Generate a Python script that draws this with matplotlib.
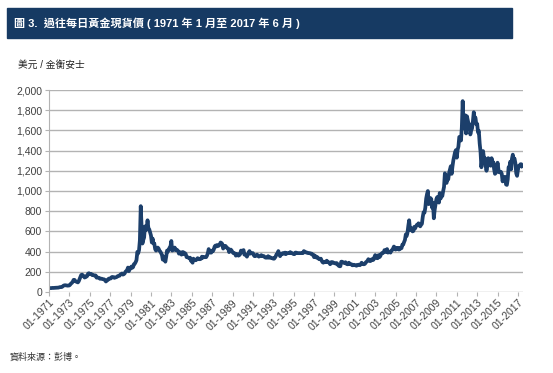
"""
Daily gold spot price, Jan 1971 - Jun 2017 (monthly readings off the chart)
"""
import numpy as np
import pandas as pd
import matplotlib
matplotlib.use("Agg")
import matplotlib.pyplot as plt
import matplotlib.dates as mdates
from matplotlib.patches import Rectangle
from matplotlib.ticker import FuncFormatter

plt.rcParams["font.family"] = ["Liberation Sans", "Noto Sans CJK TC", "DejaVu Sans"]

title_text = "圖 3.  過往每日黃金現貨價 ( 1971 年 1 月至 2017 年 6 月 )"
ylabel_text = "美元 / 金衡安士"
source_text = "資料來源：彭博。"

start_month = "1971-01"
price = [
    # 1971
    37.9, 38.7, 38.9, 39.0, 40.5, 40.1, 41.0, 42.7, 42.0, 42.5, 43.0, 43.5,
    # 1972
    45.8, 48.3, 48.3, 49.0, 54.6, 62.1, 65.7, 67.0, 65.5, 64.9, 62.9, 63.9,
    # 1973
    65.1, 74.2, 84.4, 90.5, 102.0, 120.1, 120.2, 106.8, 103.0, 100.1, 94.8, 106.7,
    # 1974
    129.2, 150.2, 168.4, 172.2, 163.3, 154.1, 143.0, 154.6, 151.8, 158.8, 181.7, 186.0,
    # 1975
    176, 180, 178, 167, 167, 164, 165, 163, 142, 142, 142, 140,
    # 1976
    131, 132, 132, 128, 126, 125, 117, 104, 114, 117, 130, 134,
    # 1977
    132, 136, 148, 149, 146, 140, 144, 146, 150, 158, 160, 161,
    # 1978
    173, 178, 183, 172, 176, 183, 200, 208, 218, 242, 206, 226,
    # 1979
    233, 252, 240, 246, 275, 280, 295, 315, 397, 383, 415, 512,
    # 1980
    850, 640, 480, 515, 540, 650, 615, 630, 710, 630, 620, 590,
    # 1981
    560, 490, 530, 480, 480, 425, 410, 425, 440, 430, 410, 400,
    # 1982
    385, 365, 320, 350, 330, 300, 350, 410, 400, 420, 440, 450,
    # 1983
    505, 410, 415, 435, 440, 415, 420, 415, 405, 380, 395, 385,
    # 1984
    370, 395, 395, 375, 385, 375, 345, 345, 340, 335, 340, 310,
    # 1985
    305, 290, 330, 320, 315, 315, 325, 335, 325, 325, 325, 330,
    # 1986
    350, 340, 345, 345, 345, 345, 360, 385, 425, 400, 390, 390,
    # 1987
    410, 405, 420, 450, 460, 450, 465, 455, 460, 470, 490, 485,
    # 1988
    475, 430, 455, 450, 455, 440, 435, 430, 395, 410, 420, 410,
    # 1989
    395, 385, 385, 380, 360, 375, 375, 360, 365, 375, 410, 400,
    # 1990
    410, 415, 370, 370, 365, 350, 370, 390, 405, 380, 385, 385,
    # 1991
    385, 365, 355, 355, 365, 370, 360, 350, 355, 360, 365, 355,
    # 1992
    355, 355, 345, 340, 340, 340, 355, 340, 345, 340, 335, 335,
    # 1993
    330, 330, 340, 355, 375, 375, 405, 375, 355, 370, 375, 385,
    # 1994
    380, 380, 390, 375, 385, 385, 385, 385, 395, 385, 385, 380,
    # 1995
    375, 375, 390, 390, 385, 385, 385, 385, 385, 385, 385, 385,
    # 1996
    405, 400, 395, 390, 390, 385, 385, 385, 380, 380, 370, 370,
    # 1997
    345, 360, 350, 340, 345, 335, 325, 325, 330, 310, 295, 290,
    # 1998
    300, 295, 300, 310, 295, 295, 290, 275, 295, 290, 295, 290,
    # 1999
    285, 285, 280, 285, 270, 260, 255, 255, 300, 300, 295, 290,
    # 2000
    285, 295, 280, 275, 275, 290, 280, 275, 275, 265, 265, 270,
    # 2001
    265, 265, 260, 265, 270, 270, 265, 275, 290, 280, 275, 275,
    # 2002
    280, 295, 300, 310, 325, 315, 305, 310, 325, 315, 320, 345,
    # 2003
    365, 350, 335, 335, 365, 345, 355, 375, 385, 385, 395, 415,
    # 2004
    400, 395, 425, 390, 395, 395, 390, 410, 415, 430, 450, 440,
    # 2005
    420, 435, 430, 435, 420, 435, 430, 435, 470, 470, 495, 515,
    # 2006
    570, 555, 585, 655, 710, 615, 635, 625, 600, 605, 645, 630,
    # 2007
    650, 665, 665, 680, 660, 650, 665, 675, 745, 790, 785, 835,
    # 2008
    925, 970, 1000, 870, 890, 930, 920, 835, 880, 730, 815, 870,
    # 2009
    920, 940, 920, 885, 980, 925, 955, 950, 1000, 1040, 1175, 1095,
    # 2010
    1080, 1120, 1115, 1180, 1210, 1245, 1170, 1245, 1305, 1345, 1385, 1405,
    # 2011
    1330, 1410, 1440, 1535, 1535, 1500, 1630, 1890, 1620, 1720, 1750, 1570,
    # 2012
    1740, 1700, 1660, 1660, 1560, 1600, 1620, 1690, 1780, 1720, 1725, 1660,
    # 2013
    1665, 1580, 1595, 1470, 1390, 1235, 1320, 1395, 1325, 1325, 1250, 1200,
    # 2014
    1245, 1325, 1285, 1290, 1250, 1325, 1285, 1285, 1215, 1170, 1180, 1200,
    # 2015
    1280, 1215, 1185, 1185, 1190, 1170, 1095, 1135, 1115, 1140, 1065, 1060,
    # 2016
    1115, 1235, 1235, 1290, 1215, 1320, 1360, 1310, 1320, 1275, 1175, 1150,
    # 2017
    1210, 1250, 1245, 1265, 1265, 1245,
]
dates = pd.date_range(start_month, periods=len(price), freq="MS")

tick_years = list(range(1971, 2018, 2))
y_ticks = list(range(0, 2001, 200))

navy = "#1c3f6b"
grid_grey = "#b3b3b3"
text_grey = "#404040"

fig = plt.figure(figsize=(5.53, 3.73), dpi=100)

# title bar
fig.patches.append(Rectangle((7 / 553, 1 - 38 / 373), 505 / 553, 30 / 373,
                             transform=fig.transFigure, color="#163a63", zorder=0))
fig.text(14 / 553, 1 - 23 / 373, title_text, color="white", fontsize=8,
         fontweight="bold", va="center", ha="left",
         family=["Liberation Sans", "Noto Sans CJK TC"])

ax = fig.add_axes([49 / 553, 1 - 292 / 373, 474 / 553, 202 / 373])
ax.plot(dates, price, color=navy, lw=2.7, solid_joinstyle="round")

ax.set_ylim(0, 2000)
ax.set_yticks(y_ticks)
ax.yaxis.set_major_formatter(FuncFormatter(lambda v, _: f"{int(v):,}"))
ax.set_xlim(pd.Timestamp("1971-01-01"), pd.Timestamp("2017-07-01"))
ax.set_xticks([pd.Timestamp(f"{y}-01-01") for y in tick_years])
ax.xaxis.set_major_formatter(mdates.DateFormatter("%m-%Y"))

ax.grid(axis="y", color=grid_grey, lw=1.0)
ax.set_axisbelow(True)
for side in ["top", "right", "bottom"]:
    ax.spines[side].set_visible(False)
ax.spines["left"].set_color(grid_grey)
ax.tick_params(axis="y", length=3, color=grid_grey, labelsize=7.5,
               labelcolor=text_grey, pad=2)
ax.tick_params(axis="x", length=3, color=grid_grey, labelsize=7.5,
               labelcolor=text_grey, pad=1)
plt.setp(ax.get_xticklabels(), rotation=45, ha="right", rotation_mode="anchor")

fig.text(18 / 553, 1 - 65 / 373, ylabel_text, fontsize=7, color="#202020",
         va="center", family=["Liberation Sans", "Noto Sans CJK TC"])
fig.text(10 / 553, 1 - 357 / 373, source_text, fontsize=6.5, color="#303030",
         va="center", family=["Noto Sans CJK TC"])

fig.savefig("out.png", dpi=100)
